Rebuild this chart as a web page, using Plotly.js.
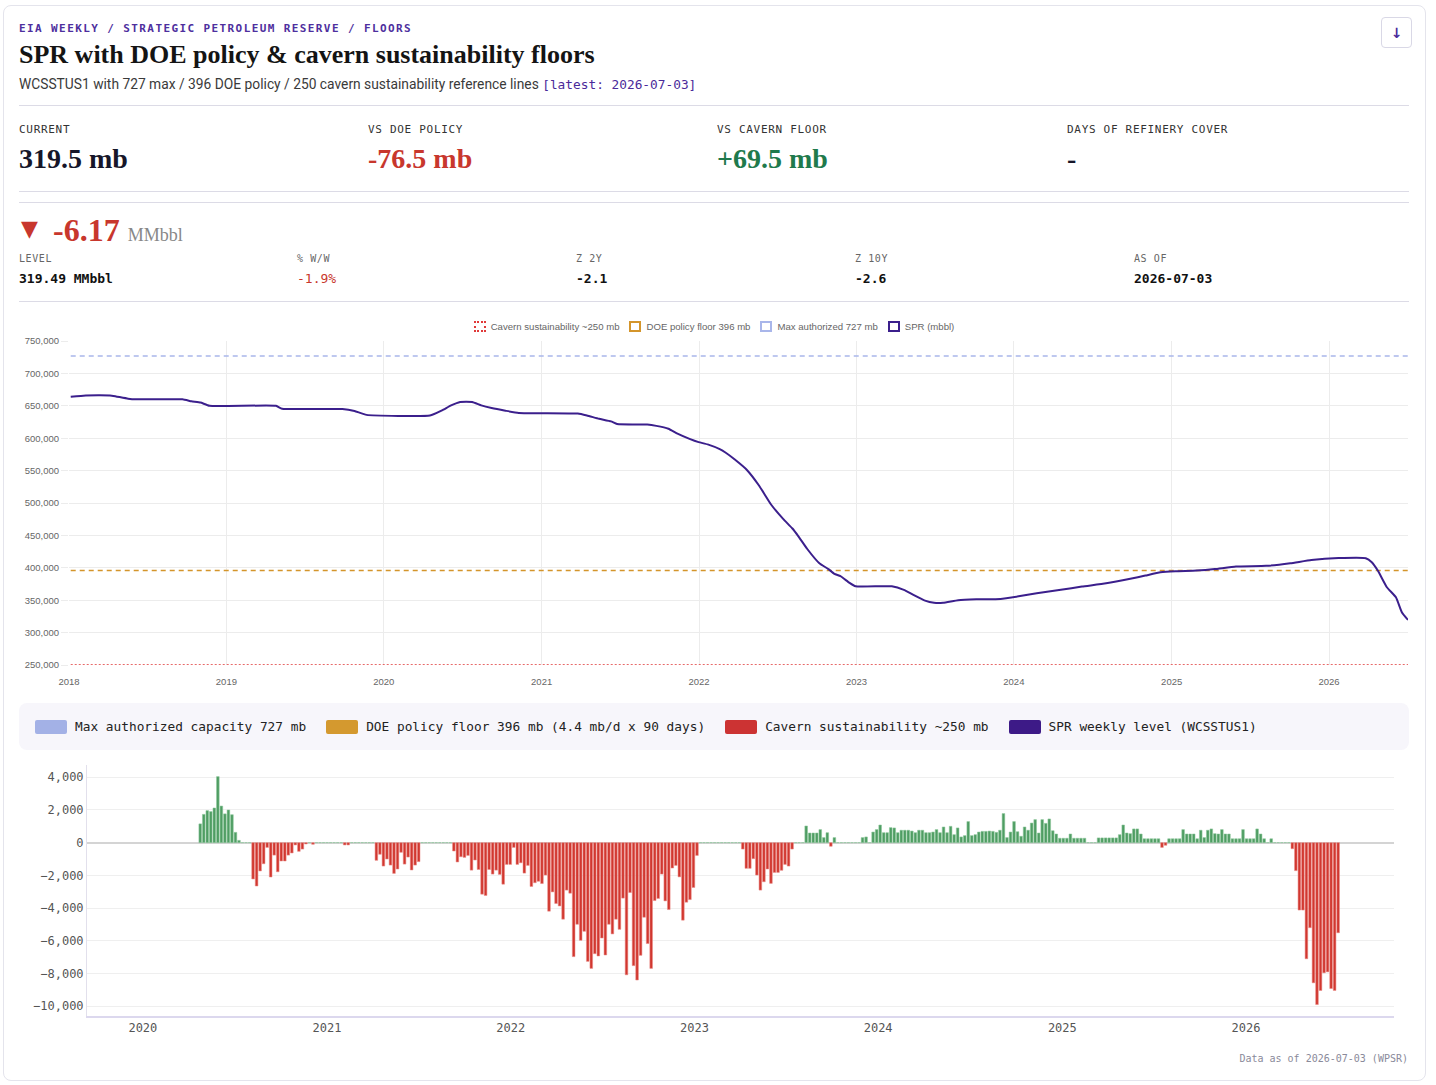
<!DOCTYPE html>
<html><head><meta charset="utf-8">
<script src="https://cdn.plot.ly/plotly-3.0.1.min.js"></script>
<style>
html,body{margin:0;padding:0;background:#fff;}
body{width:1436px;height:1085px;position:relative;overflow:hidden;font-family:'Roboto',sans-serif;}
.card{position:absolute;left:3px;top:5px;width:1421px;height:1074px;border:1px solid #e4e4ec;border-radius:8px;background:#fff;}
.abs{position:absolute;white-space:nowrap;}
.mono{font-family:'DejaVu Sans Mono',monospace;}
.serif{font-family:'Liberation Serif',serif;}
.hr{position:absolute;left:19px;width:1390px;height:1px;background:#dcdbe6;}
.kl{font-family:'DejaVu Sans Mono',monospace;font-size:11px;letter-spacing:0.7px;color:#333;line-height:14px;top:123px;}
.kv{font-family:'Liberation Serif',serif;font-weight:bold;font-size:28px;line-height:32px;top:143px;}
.rl{font-family:'DejaVu Sans Mono',monospace;font-size:10px;letter-spacing:0.6px;color:#666;line-height:12px;top:253px;}
.rv{font-family:'DejaVu Sans Mono',monospace;font-size:13px;font-weight:bold;color:#111;line-height:16px;top:271px;}
#lg1{position:absolute;left:19px;width:1390px;top:319px;height:14px;display:flex;justify-content:center;align-items:center;gap:10px;font-family:'Liberation Sans',Arial,sans-serif;font-size:9.6px;color:#666;}
#lg1 .it{display:flex;align-items:center;gap:5px;}
#lg1 .bx{width:8px;height:7px;box-sizing:content-box;}
#lg2{position:absolute;left:19px;top:703px;width:1390px;height:47px;background:#f7f6fb;border-radius:8px;display:flex;align-items:center;gap:20px;padding-left:16px;box-sizing:border-box;font-family:'DejaVu Sans Mono',monospace;font-size:12.8px;color:#222;}
#lg2 .it{display:flex;align-items:center;gap:8px;}
#lg2 .sw{width:32px;height:14px;border-radius:2px;}
#c1{position:absolute;left:19px;top:335px;width:1390px;height:360px;}
#c2{position:absolute;left:19px;top:755px;width:1390px;height:290px;}
</style></head>
<body>
<div class="card"></div>
<div class="abs mono" style="left:19px;top:22px;font-size:11px;line-height:14px;letter-spacing:1.4px;color:#4e2f9e;font-weight:bold;">EIA WEEKLY / STRATEGIC PETROLEUM RESERVE / FLOORS</div>
<div class="abs serif" style="left:19px;top:40px;font-size:26px;line-height:30px;font-weight:bold;color:#141414;">SPR with DOE policy &amp; cavern sustainability floors</div>
<div class="abs" style="left:19px;top:75px;font-size:13.8px;line-height:18px;color:#3a3a3a;">WCSSTUS1 with 727 max / 396 DOE policy / 250 cavern sustainability reference lines <span class="mono" style="color:#4a2a9a;font-size:12.8px;">[latest: 2026-07-03]</span></div>
<div class="abs" style="left:1381px;top:17px;width:29px;height:29px;border:1px solid #d9d8e6;border-radius:4px;display:flex;align-items:center;justify-content:center;font-family:'DejaVu Sans',sans-serif;font-size:14px;color:#4a2a9a;font-weight:bold;">↓</div>
<div class="hr" style="top:105px;"></div>

<div class="abs kl" style="left:19px;">CURRENT</div>
<div class="abs kl" style="left:368px;">VS DOE POLICY</div>
<div class="abs kl" style="left:717px;">VS CAVERN FLOOR</div>
<div class="abs kl" style="left:1067px;">DAYS OF REFINERY COVER</div>
<div class="abs kv" style="left:19px;color:#161629;">319.5 mb</div>
<div class="abs kv" style="left:368px;color:#c8372d;">-76.5 mb</div>
<div class="abs kv" style="left:717px;color:#1f7a4c;">+69.5 mb</div>
<div class="abs kv" style="left:1067px;color:#161629;">-</div>
<div class="hr" style="top:191px;"></div>
<div class="hr" style="top:202px;"></div>

<div class="abs" style="left:21px;top:216px;font-family:'DejaVu Sans',sans-serif;font-size:22px;line-height:26px;color:#c8372d;">▼</div>
<div class="abs serif" style="left:53px;top:212px;font-size:32px;line-height:36px;font-weight:bold;color:#c8372d;">-6.17 <span style="font-size:18px;font-weight:normal;color:#888;">MMbbl</span></div>
<div class="abs rl" style="left:19px;">LEVEL</div>
<div class="abs rl" style="left:297px;">% W/W</div>
<div class="abs rl" style="left:576px;">Z 2Y</div>
<div class="abs rl" style="left:855px;">Z 10Y</div>
<div class="abs rl" style="left:1134px;">AS OF</div>
<div class="abs rv" style="left:19px;">319.49 MMbbl</div>
<div class="abs rv" style="left:297px;color:#c8372d;font-weight:normal;">-1.9%</div>
<div class="abs rv" style="left:576px;">-2.1</div>
<div class="abs rv" style="left:855px;">-2.6</div>
<div class="abs rv" style="left:1134px;">2026-07-03</div>
<div class="hr" style="top:301px;"></div>

<div id="lg1">
  <div class="it"><span class="bx" style="border:2px dotted #e03a3a;"></span>Cavern sustainability ~250 mb</div>
  <div class="it"><span class="bx" style="border:2px dashed #d4952b;"></span>DOE policy floor 396 mb</div>
  <div class="it"><span class="bx" style="border:2px dashed #a9b6ea;"></span>Max authorized 727 mb</div>
  <div class="it"><span class="bx" style="border:2px solid #3b1f8c;"></span>SPR (mbbl)</div>
</div>
<div id="c1"></div>

<div id="lg2">
  <div class="it"><span class="sw" style="background:#a3b1e6;"></span>Max authorized capacity 727 mb</div>
  <div class="it"><span class="sw" style="background:#d4992f;"></span>DOE policy floor 396 mb (4.4 mb/d x 90 days)</div>
  <div class="it"><span class="sw" style="background:#cc3333;"></span>Cavern sustainability ~250 mb</div>
  <div class="it"><span class="sw" style="background:#3d1a87;"></span>SPR weekly level (WCSSTUS1)</div>
</div>
<div id="c2"></div>
<div class="abs mono" style="right:28px;top:1053px;font-size:10px;line-height:12px;color:#8a8a9a;">Data as of 2026-07-03 (WPSR)</div>

<script>
// ---- Reference levels (thousand barrels) ----
const maxAuthorized = 727000;
const doePolicyFloor = 396000;
const cavernFloor = 250000;

// ---- SPR weekly level (thousand barrels) ----
const levelDates = ['2018-01-05','2018-02-09','2018-04-06','2018-04-20','2018-05-18','2018-06-08','2018-09-21','2018-10-12','2018-11-02','2018-11-23',
 '2019-04-26','2019-05-10','2019-09-27','2019-10-25','2019-11-22','2020-04-17','2020-05-15','2020-06-05','2020-06-26','2020-07-24',
 '2020-08-14','2020-09-07','2020-10-09','2020-11-09','2021-03-26','2021-04-16','2021-05-14','2021-06-11','2021-06-25','2021-09-03',
 '2021-09-24','2021-10-22','2021-11-12','2021-12-10','2021-12-31','2022-01-21','2022-02-18','2022-03-04','2022-03-25','2022-04-22',
 '2022-05-20','2022-06-17','2022-07-15','2022-08-05','2022-08-19','2022-09-09','2022-10-07','2022-10-28','2022-11-11','2022-11-25',
 '2022-12-16','2022-12-30','2023-03-24','2023-04-21','2023-05-12','2023-06-09','2023-06-30','2023-07-21','2023-08-25','2023-10-06',
 '2023-12-01','2024-01-12','2024-02-23','2024-04-19','2024-06-07','2024-08-02','2024-09-27','2024-11-01','2024-12-06','2025-01-10',
 '2025-02-28','2025-04-11','2025-05-30','2025-08-08','2025-10-03','2025-11-21','2026-01-23','2026-03-27','2026-04-10','2026-04-24',
 '2026-05-15','2026-06-05','2026-06-19','2026-07-03'];
const levelValues = [664000,666000,666000,664500,661000,660000,660000,657000,655000,650000,
 650000,645500,645000,642000,636000,635000,643000,650600,656000,656000,
 650600,646500,642400,639000,638000,635000,630000,626000,622000,621000,
 619000,614600,607000,599000,594000,590400,583000,577500,567000,551000,
 527000,497700,475500,461000,449000,429000,407000,398000,390600,387000,
 376700,371500,371500,366000,358600,349400,346000,346000,350000,351400,
 352000,356000,360700,366000,371000,376000,383000,388000,393000,394700,
 395700,398000,402000,403000,407000,412000,415000,414800,408600,395700,
 370000,354500,331000,319490];

// ---- Weekly change (thousand barrels), one value per week from firstWeek ----
const firstWeek = '2020-04-24';
const weeklyChange = [
 1150,1730,1960,1900,2120,4040,2240,1760,2000,1710,630,140,0,0,0,
 -2220,-2650,-1730,-1290,-290,-2100,-760,-1780,-1120,-1120,-760,-630,-140,-530,-390,-80,
 0,-100,0,0,0,0,0,0,0,0,-140,-140,0,0,0,0,0,0,0,
 -1080,-710,-1430,-1000,-1370,-1880,-1610,-590,-1310,-880,-1670,-1370,-1160,
 0,0,0,0,0,0,0,0,0,
 -510,-1180,-860,-900,-780,-1680,-1060,-1640,-3150,-3230,
 -1640,-1920,-1680,-1940,-2540,-1330,-1330,-290,-1330,-1230,
 -1860,-1390,-2680,-2450,-2360,-2500,-1980,-4190,-3010,-3720,
 -3870,-4680,-2900,-3090,-6970,-4990,-5970,-5420,-7260,-7690,
 -6790,-6930,-5830,-6870,-4990,-5580,-4680,-5300,-3390,-8080,
 -3050,-7520,-8400,-6890,-4560,-6170,-7690,-3540,-3410,-1920,
 -3560,-4090,-1550,-1390,-2090,-4740,-3640,-3480,-2740,-780,
 0,0,0,0,0,0,0,0,0,0,0,0,
 -390,-1570,-1570,-980,-1980,-2900,-2390,-1610,-2490,-1820,-1820,-1690,-1330,-1430,-390,
 0,0,0,
 1020,590,590,590,800,310,610,-220,310,
 0,0,0,0,0,0,0,
 310,350,0,650,800,1080,610,610,920,900,610,760,760,760,710,610,760,760,610,610,
 650,800,610,960,610,1000,490,900,350,430,1290,430,490,650,690,690,710,690,630,760,
 1780,310,650,1290,
 670,390,960,760,1200,1410,590,1410,1180,1450,730,530,270,270,270,530,270,270,270,270,
 0,0,0,
 290,290,290,290,290,290,490,1080,590,550,840,840,530,240,240,240,240,240,
 -290,-160,
 240,240,240,240,800,530,530,530,240,760,310,760,840,550,530,800,530,530,240,240,
 240,800,240,240,240,840,530,240,0,240,
 0,0,0,0,0,
 -370,-1710,-4120,-4120,-7100,-5200,-8570,-9900,-9040,-7960,-7900,-8920,-9040,-5510
];

// ---- Chart 1: level with floors ----
const tickFont1 = {family:'Liberation Sans, Arial, sans-serif', size:9.5, color:'#666'};
const xEnds = [levelDates[0], levelDates[levelDates.length-1]];
const traces1 = [
  {x:xEnds, y:[cavernFloor,cavernFloor], mode:'lines', line:{color:'#e03a3a', width:1.5, dash:'2px,2px'}, name:'Cavern sustainability ~250 mb'},
  {x:xEnds, y:[doePolicyFloor,doePolicyFloor], mode:'lines', line:{color:'#d4952b', width:1.5, dash:'5px,4px'}, name:'DOE policy floor 396 mb'},
  {x:xEnds, y:[maxAuthorized,maxAuthorized], mode:'lines', line:{color:'#a9b6ea', width:1.5, dash:'5px,4px'}, name:'Max authorized 727 mb'},
  {x:levelDates, y:levelValues, mode:'lines', line:{color:'#3b1f8c', width:2, shape:'spline', smoothing:0.4}, name:'SPR (mbbl)'}
];
Plotly.newPlot('c1', traces1, {
  width:1390, height:360, margin:{l:50, r:1, t:6, b:30},
  paper_bgcolor:'rgba(0,0,0,0)', plot_bgcolor:'rgba(0,0,0,0)', showlegend:false,
  xaxis:{type:'date', range:['2018-01-01','2026-07-03'], tick0:'2018-01-01', dtick:'M12', tickformat:'%Y',
    showgrid:true, gridcolor:'#ececec', gridwidth:1, zeroline:false, showline:false,
    ticks:'outside', ticklen:8, tickcolor:'rgba(0,0,0,0)', tickfont:tickFont1},
  yaxis:{range:[250000,750000], dtick:50000, tickformat:',d', showgrid:true, gridcolor:'#ececec',
    zeroline:false, showline:false, ticks:'outside', ticklen:7, tickcolor:'#ececec', tickfont:tickFont1}
}, {staticPlot:true});

// ---- Chart 2: weekly change bars ----
const start = new Date(firstWeek + 'T00:00:00Z');
const weekDates = weeklyChange.map((v,i) => new Date(start.getTime() + i*7*86400000).toISOString().slice(0,10));
const barColors = weeklyChange.map(v => v >= 0 ? '#4f9d63' : '#d1372f');
const barLines = weeklyChange.map(v => v >= 0 ? 'rgba(140,200,155,0.9)' : 'rgba(235,140,135,0.9)');
const tickFont2 = {family:'DejaVu Sans Mono, monospace', size:12, color:'#555'};
Plotly.newPlot('c2', [{
  type:'bar', x:weekDates, y:weeklyChange, marker:{color:barColors, line:{color:barLines, width:0.6}}
}], {
  width:1390, height:290, margin:{l:68, r:15, t:10, b:29},
  paper_bgcolor:'rgba(0,0,0,0)', plot_bgcolor:'rgba(0,0,0,0)', showlegend:false, bargap:0.25,
  xaxis:{type:'date', range:['2019-09-12','2026-10-22'], tick0:'2020-01-01', dtick:'M12', tickformat:'%Y',
    showgrid:false, zeroline:false, showline:true, linecolor:'#dcd8ee', linewidth:2, ticks:'', tickfont:tickFont2},
  yaxis:{range:[-10600,4750], dtick:2000, tickformat:',d', showgrid:true, gridcolor:'#efefef',
    zeroline:true, zerolinecolor:'#d4d4d4', zerolinewidth:2, showline:true, linecolor:'#e2e0ec', linewidth:1,
    ticks:'', tickfont:tickFont2}
}, {staticPlot:true});
</script>
</body></html>
